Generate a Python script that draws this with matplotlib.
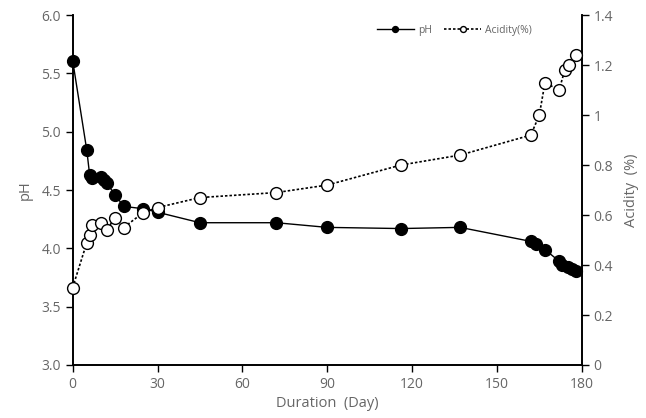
import matplotlib.pyplot as plt

# values
ph_days = [0, 5, 6, 7, 10, 11, 12, 15, 18, 25, 30, 45, 72, 90, 116, 137,
           162, 164, 167, 172, 173, 175, 176.5, 178]
ph = [5.61, 4.84, 4.63, 4.60, 4.61, 4.59, 4.56, 4.46, 4.36, 4.34, 4.31, 4.22,
      4.22, 4.18, 4.17, 4.18, 4.06, 4.04, 3.99, 3.89, 3.86, 3.84, 3.82, 3.81]

acid_days = [0, 5, 6, 7, 10, 12, 15, 18, 25, 30, 45, 72, 90, 116, 137,
             162, 165, 167, 172, 174, 175.5, 178]
acidity = [0.31, 0.49, 0.52, 0.56, 0.57, 0.54, 0.59, 0.55, 0.61, 0.63, 0.67,
           0.69, 0.72, 0.80, 0.84, 0.92, 1.00, 1.13, 1.10, 1.18, 1.20, 1.24]

x_ticks = [0, 30, 60, 90, 120, 150, 180]
ph_ticks = [3.0, 3.5, 4.0, 4.5, 5.0, 5.5, 6.0]
acid_ticks = [0, 0.2, 0.4, 0.6, 0.8, 1, 1.2, 1.4]

plt.rcParams['font.family'] = ['Open Sans', 'DejaVu Sans']
txt = '#666666'

fig = plt.figure(figsize=(6.46, 4.18), dpi=100)
ax = fig.add_axes([0.1125, 0.1268, 0.788, 0.837])
ax2 = ax.twinx()

l1, = ax.plot(ph_days, ph, color='black', lw=1.0, marker='o', ms=8.5,
              mfc='black', mec='black', clip_on=False, zorder=3, label='pH')
l2, = ax2.plot(acid_days, acidity, color='black', lw=1.2, ls=(0, (1.5, 1.2)),
               marker='o', ms=8.5, mfc='white', mec='black', mew=1.0,
               clip_on=False, zorder=3, label='Acidity(%)')

ax.set_xlim(0, 180)
ax.set_ylim(3.0, 6.0)
ax2.set_ylim(0, 1.4)
ax.set_xticks(x_ticks)
ax.set_yticks(ph_ticks)
ax.set_yticklabels([f'{v:.1f}' for v in ph_ticks])
ax2.set_yticks(acid_ticks)
ax2.set_yticklabels([f'{v:g}' for v in acid_ticks])

for a in (ax, ax2):
    a.spines['top'].set_visible(False)
    for s in a.spines.values():
        s.set_linewidth(1.2)
    a.tick_params(colors=txt, labelsize=10, length=5, width=1.0)
    a.tick_params(axis='both', color='black')

ax.set_xlabel('Duration  (Day)', color=txt, fontsize=10.5, labelpad=3)
ax.set_ylabel('pH', color=txt, fontsize=10.5, labelpad=6)
ax2.set_ylabel('Acidity  (%)', color=txt, fontsize=10.5, labelpad=8)

leg = ax2.legend(handles=[l1, l2], loc='upper center',
                 bbox_to_anchor=(0.75, 1.0), ncol=2, frameon=False,
                 fontsize=7.5, handlelength=3.5, columnspacing=1.2,
                 handletextpad=0.4, markerscale=0.5)
for t in leg.get_texts():
    t.set_color(txt)

fig.savefig('out.png', dpi=100)
